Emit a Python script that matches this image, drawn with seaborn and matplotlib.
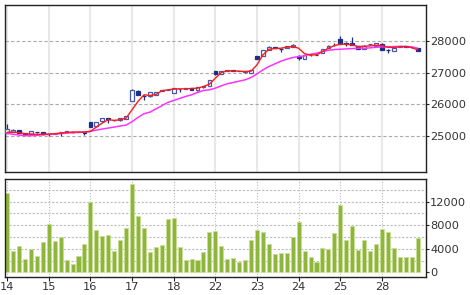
import numpy as np
import pandas as pd
import matplotlib
matplotlib.use("Agg")
import matplotlib.pyplot as plt
import seaborn as sns

# ---- data ----
day_labels = ["14", "15", "16", "17", "18", "22", "23", "24", "25", "28"]
bars_per_day = 7

open_ = [25105, 25147, 25188, 25105, 25074, 25140, 25147,
         25080, 25075, 25130, 25126, 25140, 25135, 25120,
         25449, 25314, 25470, 25560, 25510, 25501, 25543,
         26116, 26428, 26255, 26251, 26300, 26430, 26450,
         26355, 26480, 26490, 26511, 26439, 26532, 26584,
         27043, 26959, 27060, 27065, 27055, 27030, 27001,
         27522, 27522, 27709, 27785, 27745, 27762, 27793,
         27520, 27439, 27540, 27555, 27605, 27762, 27860,
         28043, 27915, 27918, 27834, 27741, 27880, 27845,
         27900, 27715, 27689, 27810, 27815, 27795, 27772]
close_ = [25230, 25209, 25105, 25064, 25157, 25130, 25064,
          25070, 25090, 25140, 25168, 25130, 25140, 25115,
          25293, 25439, 25574, 25550, 25500, 25574, 25626,
          26459, 26303, 26250, 26376, 26390, 26440, 26460,
          26511, 26485, 26495, 26449, 26543, 26584, 26772,
          26939, 27053, 27070, 27060, 27050, 27035, 27084,
          27428, 27709, 27814, 27780, 27740, 27834, 27876,
          27470, 27564, 27550, 27545, 27741, 27845, 27870,
          27897, 27905, 27866, 27751, 27845, 27890, 27918,
          27709, 27705, 27782, 27815, 27810, 27790, 27668]
high_ = [25397, 25220, 25200, 25110, 25165, 25150, 25150,
         25090, 25100, 25150, 25175, 25145, 25145, 25125,
         25460, 25445, 25580, 25580, 25520, 25580, 25640,
         26470, 26440, 26303, 26385, 26400, 26460, 26470,
         26520, 26500, 26505, 26515, 26550, 26590, 26780,
         27050, 27060, 27080, 27070, 27060, 27045, 27090,
         27530, 27715, 27820, 27810, 27760, 27840, 27880,
         27540, 27570, 27560, 27560, 27750, 27850, 27918,
         28147, 27970, 28105, 27840, 27850, 27900, 27925,
         27910, 27730, 27790, 27825, 27820, 27800, 27780]
low_ = [25095, 25140, 25095, 25055, 25070, 25120, 25055,
        25001, 25060, 25001, 25120, 25120, 25125, 25053,
        25280, 25305, 25460, 25418, 25480, 25495, 25535,
        26105, 26295, 26147, 26240, 26290, 26410, 26440,
        26345, 26376, 26480, 26440, 26430, 26525, 26575,
        26930, 26950, 27050, 27050, 27040, 27000, 26995,
        27420, 27515, 27700, 27760, 27657, 27755, 27785,
        27400, 27430, 27530, 27535, 27600, 27755, 27834,
        27890, 27834, 27860, 27745, 27735, 27870, 27840,
        27700, 27605, 27680, 27800, 27800, 27780, 27660]
volume = [13400, 3620, 4400, 2200, 3960, 2770, 5200,
          8200, 5260, 5940, 2090, 1410, 2830, 4810,
          11900, 7190, 6110, 6400, 3620, 5490, 7580,
          14940, 9560, 7470, 3400, 4360, 4640, 9060,
          9170, 4250, 2090, 2200, 2090, 3510, 6790,
          7020, 4530, 2260, 2380, 1700, 2090, 5430,
          7130, 6900, 4750, 3060, 3280, 3340, 6060,
          8600, 3620, 2550, 1810, 4130, 3960, 6740,
          11430, 5550, 7920, 3790, 5430, 3620, 4810,
          7360, 6790, 4130, 2660, 2600, 2550, 5830]
ma_short = [25126, 25136, 25115, 25084, 25074, 25064, 25064,
            25074, 25084, 25105, 25126, 25136, 25136, 25136,
            25157, 25293, 25418, 25522, 25501, 25522, 25574,
            25834, 26095, 26303, 26282, 26313, 26428, 26459,
            26480, 26490, 26490, 26500, 26511, 26563, 26636,
            26824, 27001, 27053, 27053, 27043, 27032, 27043,
            27241, 27553, 27730, 27751, 27762, 27793, 27814,
            27762, 27590, 27553, 27553, 27657, 27762, 27845,
            27887, 27887, 27866, 27814, 27824, 27834, 27855,
            27845, 27793, 27782, 27814, 27814, 27782, 27709]
ma_long = [25095, 25064, 25043, 25022, 25022, 25032, 25053,
           25064, 25074, 25084, 25105, 25115, 25126, 25136,
           25157, 25199, 25230, 25261, 25293, 25324, 25355,
           25460, 25595, 25710, 25760, 25860, 25959, 26064,
           26126, 26189, 26251, 26303, 26376, 26439, 26459,
           26511, 26584, 26647, 26689, 26730, 26772, 26845,
           26959, 27084, 27188, 27272, 27355, 27418, 27470,
           27501, 27522, 27574, 27605, 27657, 27699, 27720,
           27730, 27741, 27751, 27762, 27762, 27772, 27793,
           27803, 27803, 27814, 27814, 27814, 27803, 27762]
price_ticks = [25000, 26000, 27000, 28000]
volume_ticks = [0, 4000, 8000, 12000]

# ---- build frames ----
n = len(close_)
idx = np.arange(n)
df = pd.DataFrame({"i": idx, "open": open_, "close": close_, "high": high_,
                   "low": low_, "volume": volume, "ma_s": ma_short, "ma_l": ma_long})

sns.set_theme(style="white")
plt.rcParams["font.family"] = ["DejaVu Sans"]

fig = plt.figure(figsize=(4.70, 2.95), dpi=100)
ax1 = fig.add_axes([5/470, 1 - 171.7/295, 421/470, 167/295])
ax2 = fig.add_axes([5/470, 1 - 276.7/295, 421/470, 97.4/295])

xlim = (-0.35, 70.4)
day_pos = [k * bars_per_day for k in range(len(day_labels))]
txt_col = "#333333"

# ---- price panel ----
for p in day_pos:
    ax1.axvline(p, color="#e8e8e8", lw=1.5, zorder=0)
for t in price_ticks:
    ax1.axhline(t, color="#aaaaaa", lw=0.8, ls=(0, (3, 2)), zorder=0.5)

navy = "#1c2f8a"
edge_up = "#4a5aa8"
up = df["close"] >= df["open"]
ax1.vlines(df["i"], df["low"], df["high"], color=navy, lw=0.9, zorder=2)
body_bottom = np.minimum(df["open"], df["close"])
body_h = np.maximum(np.abs(df["close"] - df["open"]), 12)
ax1.bar(df["i"][up], body_h[up], bottom=body_bottom[up], width=0.62,
        facecolor="white", edgecolor=edge_up, linewidth=0.9, zorder=3)
ax1.bar(df["i"][~up], body_h[~up], bottom=body_bottom[~up], width=0.62,
        facecolor=navy, edgecolor=navy, linewidth=0.9, zorder=3)

sns.lineplot(data=df, x="i", y="ma_l", ax=ax1, color="#ff33ff", lw=1.1, zorder=4)
sns.lineplot(data=df, x="i", y="ma_s", ax=ax1, color="#ff1a1a", lw=1.0, zorder=5)

ax1.set_xlim(*xlim)
ax1.set_ylim(23894, 29125)
ax1.set_xticks([])
ax1.yaxis.tick_right()
ax1.set_yticks(price_ticks)
ax1.set_yticklabels([str(t) for t in price_ticks])
ax1.tick_params(axis="y", right=True, length=2, width=0.8, pad=1,
                labelsize=8.2, labelcolor=txt_col, color="#222222")
ax1.set_xlabel("")
ax1.set_ylabel("")
for s in ax1.spines.values():
    s.set_color("#222222")
    s.set_linewidth(1.0)

# ---- volume panel ----
for p in day_pos:
    ax2.axvline(p, color="#bbbbbb", lw=0.8, ls=(0, (1, 1.5)), zorder=0)
for t in range(2000, 16000, 2000):
    ax2.axhline(t, color="#bbbbbb", lw=0.8, ls=(0, (2, 1.5)), zorder=0)

sns.barplot(data=df, x="i", y="volume", ax=ax2, color="#8db63a",
            width=0.68, edgecolor="#c8de98", linewidth=0.6, saturation=1, zorder=2)

ax2.set_xlim(*xlim)
ax2.set_ylim(-750, 15800)
ax2.set_xticks(day_pos)
ax2.set_xticklabels(day_labels)
ax2.yaxis.tick_right()
ax2.set_yticks(volume_ticks)
ax2.set_yticklabels([str(t) for t in volume_ticks])
ax2.tick_params(axis="y", right=True, length=2, width=0.8, pad=1,
                labelsize=8.2, labelcolor=txt_col, color="#222222")
ax2.tick_params(axis="x", bottom=True, length=3, width=0.8, pad=1,
                labelsize=8.2, labelcolor=txt_col, color="#222222")
ax2.set_xlabel("")
ax2.set_ylabel("")
for s in ax2.spines.values():
    s.set_color("#222222")
    s.set_linewidth(1.0)

fig.savefig("out.png", dpi=100, facecolor="white")
